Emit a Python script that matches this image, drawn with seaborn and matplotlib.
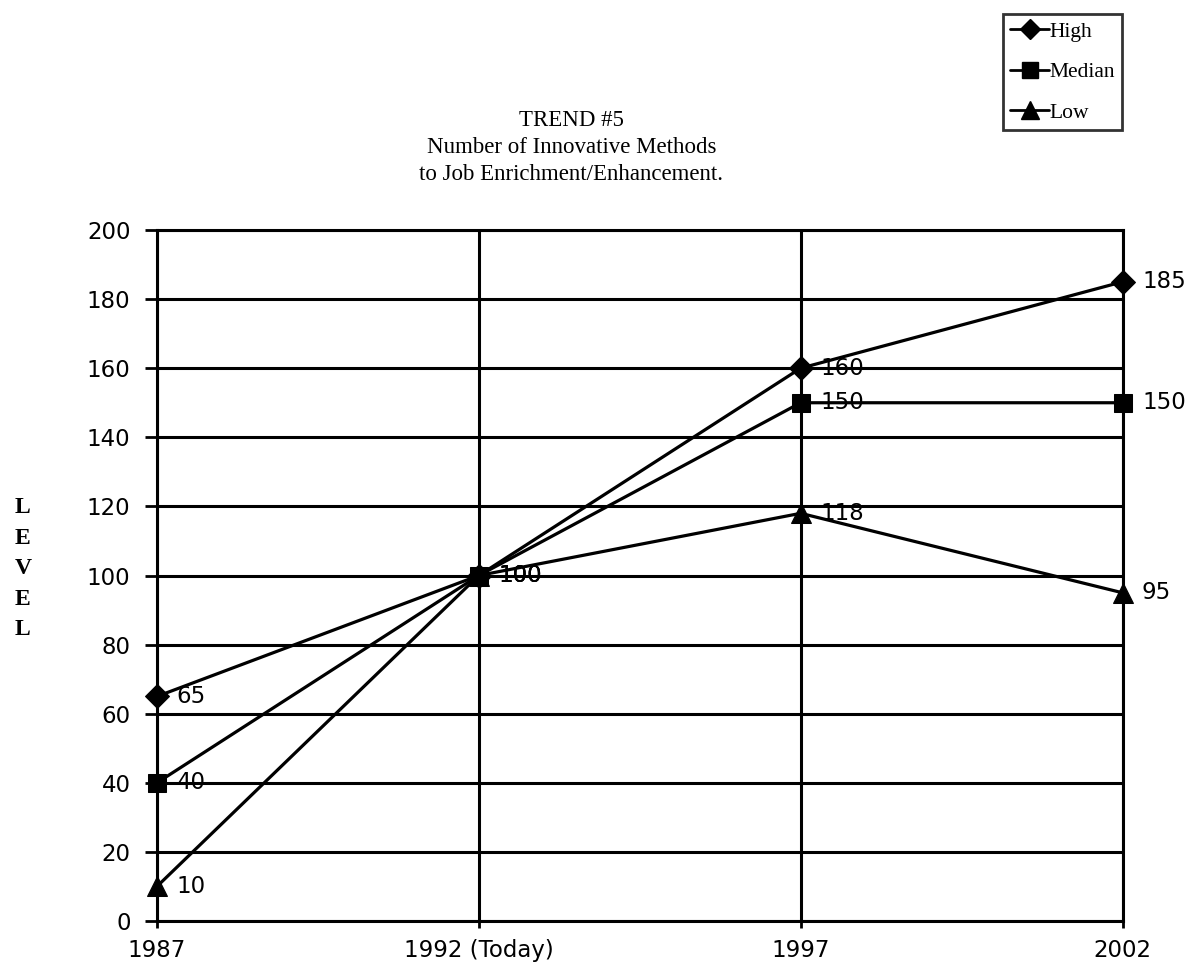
import pandas as pd
import seaborn as sns
import matplotlib.pyplot as plt
from matplotlib.lines import Line2D

# data
years = ['1987', '1992 (Today)', '1997', '2002']
high = [65, 100, 160, 185]
median = [40, 100, 150, 150]
low = [10, 100, 118, 95]

df = pd.DataFrame({
    'year': list(range(len(years))) * 3,
    'value': high + median + low,
    'series': ['High'] * 4 + ['Median'] * 4 + ['Low'] * 4,
})

sns.set_style('white')
plt.rcParams['font.family'] = ['DejaVu Sans']
plt.rcParams['text.color'] = 'black'
plt.rcParams['xtick.color'] = 'black'
plt.rcParams['ytick.color'] = 'black'

fig = plt.figure(figsize=(11.98, 9.77), dpi=100)
ax = fig.add_axes([0.131, 0.0573, 0.806, 0.7073])

markers = {'High': 'D', 'Median': 's', 'Low': '^'}
msizes = {'High': 12, 'Median': 13, 'Low': 15}
for name in ['High', 'Median', 'Low']:
    sub = df[df['series'] == name]
    sns.lineplot(data=sub, x='year', y='value', ax=ax, color='black',
                 linewidth=2.3, marker=markers[name], markersize=msizes[name],
                 markeredgecolor='black', zorder=3, clip_on=False)
    # value labels right of each point
    for xv, yv in zip(sub['year'], sub['value']):
        ax.annotate(str(yv), (xv, yv), xytext=(14, 0), textcoords='offset points',
                    va='center', ha='left', fontsize=16.5, zorder=4,
                    annotation_clip=False)

ax.set_xlim(0, 3)
ax.set_ylim(0, 200)
ax.set_xticks(range(len(years)))
ax.set_xticklabels(years, fontsize=16.5)
ax.set_yticks(range(0, 201, 20))
ax.tick_params(axis='y', labelsize=16.5, length=9, width=2, color='black', pad=10, direction='out', left=True)
ax.tick_params(axis='x', length=5, width=2, color='black', pad=8, direction='out', bottom=True)
ax.grid(True, color='black', linewidth=2.2)
ax.set_axisbelow(True)
for s in ax.spines.values():
    s.set_color('black')
    s.set_linewidth(2.2)
ax.set_xlabel('')
ax.set_ylabel('')

# title
fig.text(0.477, 0.849, 'TREND #5\nNumber of Innovative Methods\nto Job Enrichment/Enhancement.',
         ha='center', va='center', fontsize=16.5, family='Liberation Serif', linespacing=1.4)

# stacked axis label
fig.text(0.019, 0.418, 'L\nE\nV\nE\nL', ha='center', va='center', fontsize=17,
         family='Liberation Serif', fontweight='bold', linespacing=1.6)

# legend
handles = [Line2D([], [], color='black', linewidth=2, marker=markers[n],
                  markersize=msizes[n] * 0.85) for n in ['High', 'Median', 'Low']]
leg = fig.legend(handles, ['High', 'Median', 'Low'], loc='upper right',
                 bbox_to_anchor=(1122 / 1198, 1 - 14 / 977), frameon=True,
                 fancybox=False, edgecolor='black', handlelength=1.8,
                 handletextpad=0.0, labelspacing=0.95, borderpad=0.35,
                 borderaxespad=0, prop={'family': 'Liberation Serif', 'size': 15.5})
leg.get_frame().set_linewidth(2)

plt.savefig('out.png', dpi=100)
